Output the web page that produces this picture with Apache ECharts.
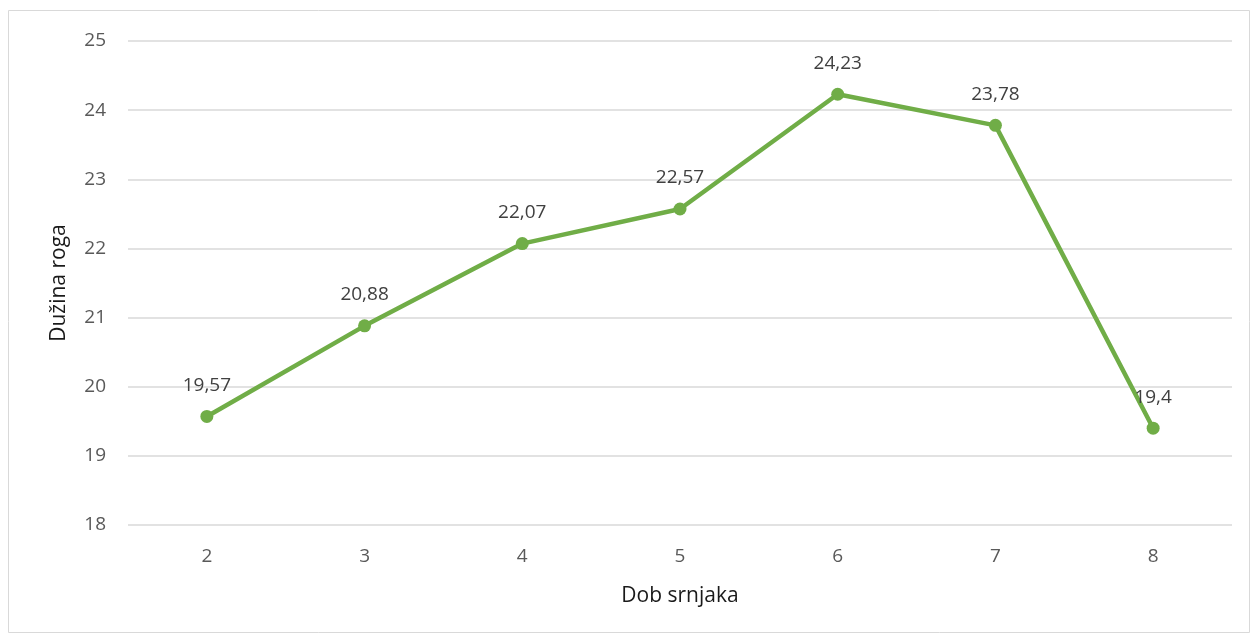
<!DOCTYPE html>
<html>
<head>
<meta charset="utf-8">
<script src="https://cdn.jsdelivr.net/npm/echarts@6/dist/echarts.min.js"></script>
<style>
  html, body { margin: 0; padding: 0; background: #fff; }
  #chart { width: 1260px; height: 637px; }
</style>
</head>
<body>
<div id="chart"></div>
<script>
const categories = ['2', '3', '4', '5', '6', '7', '8']
const values = [19.57, 20.88, 22.07, 22.57, 24.23, 23.78, 19.4]
const labels = ['19,57', '20,88', '22,07', '22,57', '24,23', '23,78', '19,4']

const chart = echarts.init(document.getElementById('chart'))
const font = 'Open Sans, Calibri, Noto Sans, sans-serif'

chart.setOption({
  animation: false,
  graphic: [{
    type: 'rect',
    shape: { x: 8.5, y: 10.5, width: 1241, height: 622 },
    style: { fill: 'none', stroke: '#d9d9d9', lineWidth: 1 },
    silent: true
  }],
  grid: { left: 128, right: 28, top: 41, bottom: 112 },
  xAxis: {
    type: 'category',
    data: categories,
    boundaryGap: true,
    name: 'Dob srnjaka',
    nameLocation: 'middle',
    nameGap: 61,
    nameTextStyle: { color: '#1a1a1a', fontSize: 21, fontFamily: font },
    axisLine: { show: false },
    axisTick: { show: false },
    axisLabel: { color: '#595959', fontSize: 19, margin: 22, fontFamily: font }
  },
  yAxis: {
    type: 'value',
    min: 18,
    max: 25,
    interval: 1,
    name: 'Dužina roga',
    nameLocation: 'middle',
    nameGap: 58,
    nameRotate: 90,
    nameTextStyle: { color: '#1a1a1a', fontSize: 21, fontFamily: font },
    axisLine: { show: false },
    axisTick: { show: false },
    axisLabel: { color: '#595959', fontSize: 19, margin: 22, fontFamily: font },
    splitLine: { lineStyle: { color: '#d9d9d9', width: 1.5 } }
  },
  series: [{
    type: 'line',
    data: values,
    symbol: 'circle',
    symbolSize: 13,
    lineStyle: { color: '#70ad47', width: 4.5 },
    itemStyle: { color: '#70ad47' },
    label: {
      show: true,
      position: 'top',
      distance: 15,
      color: '#404040',
      fontSize: 19,
      fontFamily: font,
      formatter: p => labels[p.dataIndex]
    }
  }]
})
</script>
</body>
</html>
